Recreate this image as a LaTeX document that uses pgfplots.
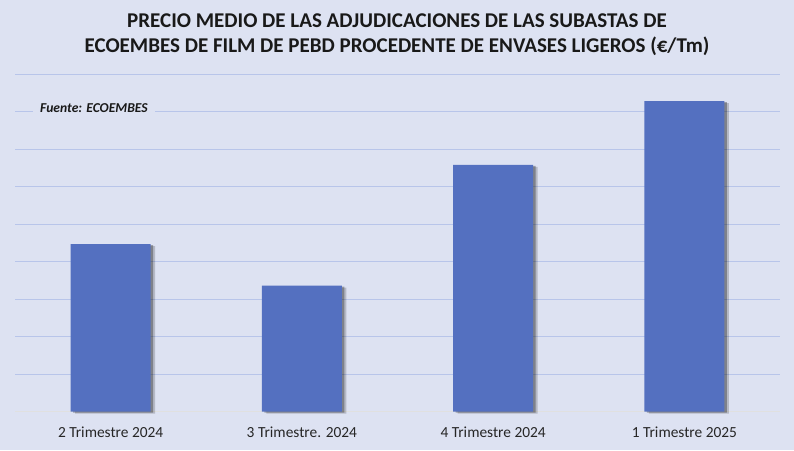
\documentclass[border=0pt]{standalone}
\usepackage{pgfplots}
\pgfplotsset{compat=1.18}
\usepackage{fontspec}
\setmainfont{Carlito}
\usetikzlibrary{shadows}
\definecolor{bg}{RGB}{221,226,242}
\definecolor{barc}{RGB}{84,112,192}
\definecolor{gridc}{RGB}{184,197,234}
\begin{document}
\begin{tikzpicture}[x=1pt,y=1pt]
\fill[bg] (0,0) rectangle (794,450);
\useasboundingbox (0,0) rectangle (794,450);
\node[align=center,font=\bfseries\fontsize{21}{25}\selectfont, text=black!90] at (397,415.5) {PRECIO MEDIO DE LAS ADJUDICACIONES DE LAS SUBASTAS DE\\ECOEMBES DE FILM DE PEBD PROCEDENTE DE ENVASES LIGEROS (€/Tm)};
\begin{axis}[
  scale only axis, width=765pt, height=337.5pt,
  at={(15pt,38.3pt)}, anchor=south west,
  xmin=-0.5, xmax=3.5, ymin=0, ymax=9,
  axis line style={draw=none},
  axis x line*=bottom,
  ytick={1,...,9}, yticklabels={},
  ymajorgrids, grid style={gridc, line width=1.3pt},
  major tick length=0pt,
  xtick=data,
  xticklabels={2 Trimestre 2024, 3 Trimestre. 2024, 4 Trimestre 2024, 1 Trimestre 2025},
  xticklabel style={font=\fontsize{15.4}{17}\selectfont, text=black!85, yshift=-12pt},
  clip=false,
]
\draw[black!12, line width=0.8pt] (axis cs:-0.5,0) -- (axis cs:3.5,0);
\addplot[ybar, bar width=80pt, fill=barc, draw=none,
  general shadow={shadow xshift=4.5pt, shadow yshift=-2pt, opacity=0.18, fill=black},
  general shadow={shadow xshift=2.5pt, shadow yshift=-1pt, opacity=0.3, fill=black}]
  coordinates {(0,4.47) (1,3.36) (2,6.58) (3,8.28)};
\end{axis}
\node[fill=bg, inner xsep=7pt, inner ysep=2pt, font=\bfseries\itshape\fontsize{13.6}{15}\selectfont, text=black!90, anchor=west] at (33,342.3) {Fuente: ECOEMBES};
\end{tikzpicture}
\end{document}
